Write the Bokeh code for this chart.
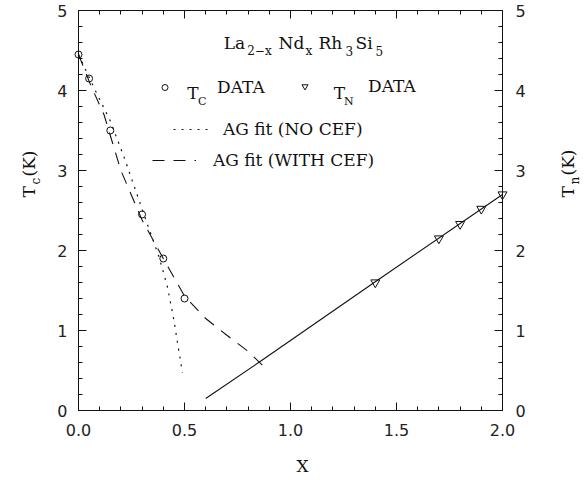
from bokeh.plotting import figure
from bokeh.models import (LinearAxis, SingleIntervalTicker, PrintfTickFormatter,
                          CustomJSTickFormatter, Label, Legend, LegendItem)
from bokeh.embed import file_html
from bokeh.resources import INLINE

# ---------------- data ----------------
tc_x = [0.0, 0.05, 0.15, 0.30, 0.40, 0.50]
tc_y = [4.45, 4.15, 3.50, 2.45, 1.90, 1.40]

tn_x = [1.4, 1.7, 1.8, 1.9, 2.0]
tn_y = [1.60, 2.15, 2.33, 2.52, 2.70]

ag_nocef_x = [0.0, 0.07, 0.15, 0.22, 0.28, 0.33, 0.38, 0.42, 0.45, 0.47, 0.49]
ag_nocef_y = [4.45, 4.05, 3.62, 3.13, 2.67, 2.29, 1.92, 1.54, 1.13, 0.80, 0.47]

ag_cef_x = [0.0, 0.06, 0.12, 0.20, 0.30, 0.40, 0.50, 0.60, 0.70, 0.80, 0.87]
ag_cef_y = [4.45, 4.05, 3.70, 3.00, 2.38, 1.90, 1.43, 1.15, 0.94, 0.74, 0.56]

tn_fit_x = [0.6, 0.85, 1.4, 2.0]
tn_fit_y = [0.15, 0.60, 1.61, 2.70]

x_ticks_step = 0.5
y_ticks_step = 1

# ---------------- layout constants ----------------
W, H = 584, 480
FL, FB, FW, FH = 78, 410, 424, 400   # plotting box: left, bottom (px), width, height
XMIN, XMAX, YMIN, YMAX = 0.0, 2.0, 0.0, 5.0
KX = FW / (XMAX - XMIN)              # px per x unit
KY = FH / (YMAX - YMIN)              # px per y unit
INK = "#111111"
SERIF = "DejaVu Serif"
SANS = "DejaVu Sans"

# the canvas frame spans the whole page; axes are pinned at the box edges
x_range = (XMIN - FL / KX, XMIN + (W - FL) / KX)
y_range = (YMIN - (H - FB) / KY, YMIN + FB / KY)

p = figure(frame_width=W, frame_height=H, x_range=x_range, y_range=y_range,
           output_backend="svg", toolbar_location=None,
           x_axis_location=None, y_axis_location=None,
           min_border=0)
p.background_fill_color = "white"
p.border_fill_color = "white"
p.outline_line_color = None
p.xgrid.visible = False
p.ygrid.visible = False


def make_axis(step, fmt, loc, bounds, standoff):
    ax = LinearAxis(ticker=SingleIntervalTicker(interval=step, num_minor_ticks=5),
                    formatter=fmt, fixed_location=loc, bounds=bounds)
    ax.major_tick_in = 8
    ax.major_tick_out = 0
    ax.minor_tick_in = 4
    ax.minor_tick_out = 0
    ax.axis_line_color = INK
    ax.major_tick_line_color = INK
    ax.minor_tick_line_color = INK
    ax.major_label_standoff = standoff
    ax.major_label_text_font = SANS
    ax.major_label_text_font_size = "16px"
    ax.major_label_text_color = "#222222"
    return ax


p.add_layout(make_axis(x_ticks_step, PrintfTickFormatter(format="%.1f"), YMIN,
                       (XMIN, XMAX), 13), "below")
top = make_axis(x_ticks_step, CustomJSTickFormatter(code="return ''"), YMAX,
                (XMIN, XMAX), 0)
top.major_label_text_font_size = "1px"
p.add_layout(top, "above")
p.add_layout(make_axis(y_ticks_step, PrintfTickFormatter(format="%d"), XMIN,
                       (YMIN, YMAX), 11), "left")
p.add_layout(make_axis(y_ticks_step, PrintfTickFormatter(format="%d"), XMAX,
                       (YMIN, YMAX), 13), "right")

# ---------------- data marks ----------------
r_nocef = p.line(ag_nocef_x, ag_nocef_y, line_color=INK, line_width=1.2, line_dash="2 6")
r_cef = p.line(ag_cef_x, ag_cef_y, line_color=INK, line_width=1.1, line_dash="12 9")
p.line(tn_fit_x, tn_fit_y, line_color=INK, line_width=1.1)
r_tc = p.scatter(tc_x, tc_y, marker="circle", size=7, fill_color=None,
                 line_color=INK, line_width=1)
r_tn = p.scatter(tn_x, tn_y, marker="inverted_triangle", size=9, fill_color=None,
                 line_color=INK, line_width=1)


# ---------------- legends (key boxes given in page px) ----------------
def make_legend(renderer, label, left, top_px, gw, gh, standoff):
    lg = Legend(items=[LegendItem(label=label, renderers=[renderer])],
                location=(int(round(left)), int(round(H - (top_px + gh)))),
                glyph_width=gw, glyph_height=gh, label_height=gh, label_width=10,
                label_standoff=standoff, padding=0, spacing=0, margin=0,
                border_line_color=None, background_fill_alpha=0,
                label_text_font=SERIF, label_text_font_size="17px",
                label_text_color=INK)
    p.add_layout(lg)


make_legend(r_tc, "DATA", 157, 77, 15, 20, 45)
make_legend(r_tn, "DATA", 297, 76, 15, 20, 56)
make_legend(r_nocef, "AG fit (NO CEF)", 173, 119, 35, 20, 15)
make_legend(r_cef, "AG fit (WITH CEF)", 152, 150, 44, 20, 17)


# ---------------- texts (anchors given in page px) ----------------
def txt(text, px, py, size, angle=0):
    p.add_layout(Label(x=XMIN + (px - FL) / KX, y=YMIN + (FB - py) / KY,
                       text=text, text_font=SERIF, text_font_size=f"{size}px",
                       text_align="left", text_baseline="alphabetic",
                       angle=angle, angle_units="deg", text_color=INK))


# compound title
txt("La", 223.3, 42, 17)
txt("2\u2212x", 246.7, 50, 12)
txt("Nd", 278, 42, 17)
txt("x", 305, 50, 12)
txt("Rh", 318, 42, 17)
txt("3", 345, 50, 12)
txt("Si", 355, 42, 17)
txt("5", 375, 50, 12)

# legend symbols with subscripts
txt("T", 186.7, 92.5, 17)
txt("C", 197.5, 100.5, 11)
txt("T", 333.3, 92.5, 17)
txt("N", 343.5, 101, 11)

# axis titles
txt("X", 296, 465, 17)
txt("T", 28, 197, 17, 90)
txt("c", 35, 184, 12, 90)
txt("(K)", 28, 176, 17, 90)
txt("T", 567, 197, 17, 90)
txt("n", 574, 184, 12, 90)
txt("(K)", 567, 175, 17, 90)

open("out.html", "w").write(file_html(p, INLINE))
